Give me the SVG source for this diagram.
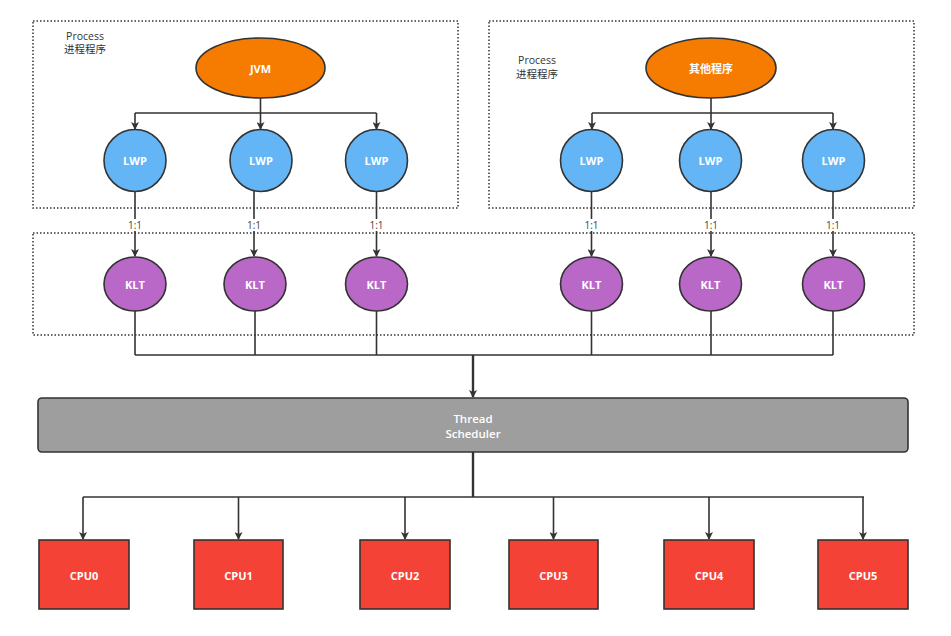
<svg xmlns="http://www.w3.org/2000/svg" width="951" height="636" viewBox="0 0 951 636">
<defs>
<marker id="ah" markerWidth="8" markerHeight="8" refX="7" refY="4" orient="auto" markerUnits="userSpaceOnUse"><path d="M0,0 L8,4 L0,8 L2,4 Z" fill="#333"/></marker>
<style>
.dot{fill:none;stroke:#333;stroke-width:1.5;stroke-dasharray:1.5 2}
.ln{fill:none;stroke:#333;stroke-width:1.6}
.thick{fill:none;stroke:#333;stroke-width:2.4}
.n{stroke:#333;stroke-width:1.6}
.lbl{font-family:"Open Sans","Noto Sans CJK SC",sans-serif;font-size:11px;font-weight:bold;fill:#fff;text-anchor:middle;dominant-baseline:central}
.sch{font-family:"Open Sans",sans-serif;font-size:11.5px;font-weight:600;fill:#fff;text-anchor:middle;dominant-baseline:central}
.plbl{font-family:"Open Sans","Noto Sans CJK SC",sans-serif;font-size:10.5px;fill:#333;text-anchor:middle}
.r{font-family:"Open Sans",sans-serif;font-size:10px;fill:#444;text-anchor:middle;dominant-baseline:central}
</style>
</defs>
<rect width="951" height="636" fill="#fff"/>
<g id="containers">
<rect class="dot" x="33" y="21" width="425" height="187"/>
<rect class="dot" x="489" y="21" width="425" height="187"/>
<rect class="dot" x="33" y="233" width="881" height="102"/>
<text class="plbl" x="85" y="40">Process</text>
<text class="plbl" x="85" y="53">进程程序</text>
<text class="plbl" x="537" y="64">Process</text>
<text class="plbl" x="537" y="78">进程程序</text>
</g>
<g id="connectors">
<path class="ln" d="M260.5,98 V113 M135,113 H376.5" />
<path class="ln" d="M135,113 V129" marker-end="url(#ah)"/>
<path class="ln" d="M260.5,113 V129" marker-end="url(#ah)"/>
<path class="ln" d="M376.5,113 V129" marker-end="url(#ah)"/>
<path class="ln" d="M711,98 V113 M592,113 H833" />
<path class="ln" d="M592,113 V129" marker-end="url(#ah)"/>
<path class="ln" d="M711,113 V129" marker-end="url(#ah)"/>
<path class="ln" d="M833,113 V129" marker-end="url(#ah)"/>
<path class="ln" d="M135,191 V256" marker-end="url(#ah)"/>
<path class="ln" d="M254,191 V256" marker-end="url(#ah)"/>
<path class="ln" d="M376.5,191 V256" marker-end="url(#ah)"/>
<path class="ln" d="M591.5,191 V256" marker-end="url(#ah)"/>
<path class="ln" d="M711,191 V256" marker-end="url(#ah)"/>
<path class="ln" d="M833,191 V256" marker-end="url(#ah)"/>
<g>
<rect x="126" y="219" width="18" height="12" fill="#fff"/><text class="r" x="135" y="225">1:1</text>
<rect x="245" y="219" width="18" height="12" fill="#fff"/><text class="r" x="254" y="225">1:1</text>
<rect x="367" y="219" width="18" height="12" fill="#fff"/><text class="r" x="376.5" y="225">1:1</text>
<rect x="582" y="219" width="18" height="12" fill="#fff"/><text class="r" x="591.5" y="225">1:1</text>
<rect x="702" y="219" width="18" height="12" fill="#fff"/><text class="r" x="711" y="225">1:1</text>
<rect x="824" y="219" width="18" height="12" fill="#fff"/><text class="r" x="833" y="225">1:1</text>
</g>
<path class="ln" d="M135,311 V355 M255,311 V355 M376.5,311 V355 M591.5,311 V355 M711,311 V355 M833,311 V355 M135,355 H833"/>
<path class="thick" d="M473,355 V397" marker-end="url(#ah)"/>
<path class="thick" d="M473,452 V497"/>
<path class="ln" d="M83,497 H864"/>
<path class="ln" d="M83,497 V539" marker-end="url(#ah)"/>
<path class="ln" d="M238.5,497 V539" marker-end="url(#ah)"/>
<path class="ln" d="M405,497 V539" marker-end="url(#ah)"/>
<path class="ln" d="M553.5,497 V539" marker-end="url(#ah)"/>
<path class="ln" d="M709,497 V539" marker-end="url(#ah)"/>
<path class="ln" d="M863,497 V539" marker-end="url(#ah)"/>
</g>
<g id="jvm"><ellipse class="n" cx="260.5" cy="68" rx="64.5" ry="30" fill="#f57c00"/><text class="lbl" x="260.5" y="68">JVM</text></g>
<g id="other"><ellipse class="n" cx="711" cy="68" rx="65" ry="30" fill="#f57c00"/><text class="lbl" x="711" y="68">其他程序</text></g>
<g id="lwp1"><circle class="n" cx="135" cy="160.5" r="31" fill="#64b5f6"/><text class="lbl" x="135" y="160.5">LWP</text></g>
<g id="lwp2"><circle class="n" cx="261" cy="160.5" r="31" fill="#64b5f6"/><text class="lbl" x="261" y="160.5">LWP</text></g>
<g id="lwp3"><circle class="n" cx="376.5" cy="160.5" r="31" fill="#64b5f6"/><text class="lbl" x="376.5" y="160.5">LWP</text></g>
<g id="lwp4"><circle class="n" cx="591.5" cy="160.5" r="31" fill="#64b5f6"/><text class="lbl" x="591.5" y="160.5">LWP</text></g>
<g id="lwp5"><circle class="n" cx="710.5" cy="160.5" r="31" fill="#64b5f6"/><text class="lbl" x="710.5" y="160.5">LWP</text></g>
<g id="lwp6"><circle class="n" cx="833.5" cy="160.5" r="31" fill="#64b5f6"/><text class="lbl" x="833.5" y="160.5">LWP</text></g>
<g id="klt1"><ellipse class="n" cx="135" cy="284" rx="31" ry="27" fill="#ba68c8"/><text class="lbl" x="135" y="284">KLT</text></g>
<g id="klt2"><ellipse class="n" cx="255" cy="284" rx="31" ry="27" fill="#ba68c8"/><text class="lbl" x="255" y="284">KLT</text></g>
<g id="klt3"><ellipse class="n" cx="376.5" cy="284" rx="31" ry="27" fill="#ba68c8"/><text class="lbl" x="376.5" y="284">KLT</text></g>
<g id="klt4"><ellipse class="n" cx="591.5" cy="284" rx="31" ry="27" fill="#ba68c8"/><text class="lbl" x="591.5" y="284">KLT</text></g>
<g id="klt5"><ellipse class="n" cx="710.5" cy="284" rx="31" ry="27" fill="#ba68c8"/><text class="lbl" x="710.5" y="284">KLT</text></g>
<g id="klt6"><ellipse class="n" cx="833.5" cy="284" rx="31" ry="27" fill="#ba68c8"/><text class="lbl" x="833.5" y="284">KLT</text></g>
<g id="scheduler"><rect class="n" x="38" y="398" width="870" height="54" rx="4" fill="#9e9e9e"/><text class="sch" x="473" y="418">Thread</text><text class="sch" x="473" y="433">Scheduler</text></g>
<g id="cpu0"><rect class="n" x="39" y="540" width="90" height="69" fill="#f44336"/><text class="lbl" x="84" y="575">CPU0</text></g>
<g id="cpu1"><rect class="n" x="194" y="540" width="89" height="69" fill="#f44336"/><text class="lbl" x="238.5" y="575">CPU1</text></g>
<g id="cpu2"><rect class="n" x="360" y="540" width="90" height="69" fill="#f44336"/><text class="lbl" x="405" y="575">CPU2</text></g>
<g id="cpu3"><rect class="n" x="509" y="540" width="89" height="69" fill="#f44336"/><text class="lbl" x="553.5" y="575">CPU3</text></g>
<g id="cpu4"><rect class="n" x="664" y="540" width="90" height="69" fill="#f44336"/><text class="lbl" x="709" y="575">CPU4</text></g>
<g id="cpu5"><rect class="n" x="818" y="540" width="90" height="69" fill="#f44336"/><text class="lbl" x="863" y="575">CPU5</text></g>
</svg>
